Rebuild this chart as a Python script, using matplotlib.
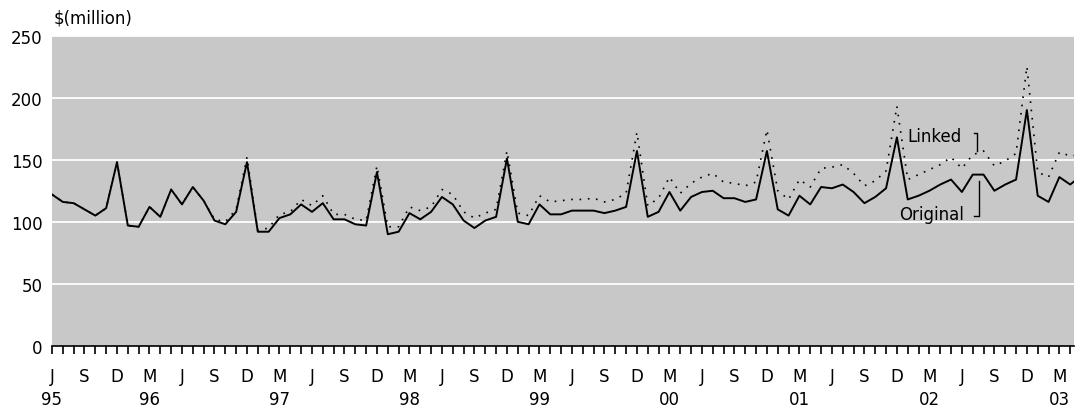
import matplotlib
matplotlib.use("Agg")
import matplotlib.pyplot as plt
import numpy as np

# Monthly series, June 1995 onwards ($ million)
original = [122, 116, 115, 110, 105, 111, 148, 97, 96, 112, 104, 126,
            114, 128, 117, 101, 98, 108, 148, 92, 92, 103, 106, 114,
            108, 115, 102, 102, 98, 97, 140, 90, 92, 107, 102, 108,
            120, 114, 101, 95, 101, 104, 151, 100, 98, 114, 106, 106,
            109, 109, 109, 107, 109, 112, 157, 104, 108, 124, 109, 120,
            124, 125, 119, 119, 116, 118, 157, 110, 105, 121, 114, 128,
            127, 130, 124, 115, 120, 127, 168, 118, 121, 125, 130, 134,
            124, 138, 138, 125, 130, 134, 190, 121, 116, 136, 130, 137]

linked = [122, 116, 115, 110, 105, 111, 148, 97, 96, 112, 104, 126,
          114, 128, 117, 102, 100, 110, 152, 93, 95, 106, 108, 118,
          113, 121, 106, 106, 102, 101, 145, 96, 96, 112, 109, 112,
          126, 122, 108, 103, 107, 110, 157, 107, 105, 121, 116, 117,
          118, 118, 119, 116, 118, 123, 172, 113, 119, 136, 123, 131,
          136, 139, 132, 131, 129, 132, 174, 125, 118, 134, 128, 143,
          144, 146, 139, 129, 133, 141, 193, 134, 138, 142, 146, 152,
          143, 154, 157, 145, 149, 155, 225, 140, 136, 156, 153, 154]

month_letters = ["J", "S", "D", "M"]          # Jun, Sep, Dec, Mar
year_labels = ["95", "96", "97", "98", "99", "00", "01", "02", "03"]
year_positions = [0, 9, 21, 33, 45, 57, 69, 81, 93]
y_ticks = [0, 50, 100, 150, 200, 250]

W, H = 1075, 414
fig = plt.figure(figsize=(W / 100, H / 100), dpi=100)
fig.patch.set_facecolor("white")
ax = fig.add_axes([52 / W, 1 - 347 / H, 1022 / W, (347 - 36.5) / H])
ax.set_facecolor("#c8c8c8")

x = np.arange(len(original))
ax.set_xlim(0, 94.35)
ax.set_ylim(0, 250)

for yv in y_ticks[1:]:
    ax.axhline(yv, color="white", lw=1.3, zorder=1)

ax.plot(x, linked, color="black", lw=1.2, linestyle=(0, (1, 4)), zorder=3)
ax.plot(x, original, color="black", lw=1.4, zorder=4)

for s in ["left", "top", "right"]:
    ax.spines[s].set_visible(False)
ax.spines["bottom"].set_color("black")
ax.spines["bottom"].set_linewidth(1.2)
ax.spines["bottom"].set_zorder(5)

ax.set_yticks(y_ticks)
ax.set_yticklabels([str(v) for v in y_ticks])
ax.tick_params(axis="y", length=0, pad=7, labelsize=12)

major = np.arange(0, 95, 3)
ax.set_xticks(np.arange(0, 95), minor=True)
ax.set_xticks(major)
ax.set_xticklabels([month_letters[k % 4] for k in range(len(major))])
ax.tick_params(axis="x", which="both", direction="out", length=6, width=1.2,
               pad=9, labelsize=12, color="black")

for lab, pos in zip(year_labels, year_positions):
    ax.annotate(lab, xy=(pos, 0), xycoords=("data", "axes fraction"),
                xytext=(0, -44), textcoords="offset pixels",
                ha="center", va="top", fontsize=12)

fig.text(54 / W, 1 - 18 / H, r"\$(million)", ha="left", va="center", fontsize=12)

# series labels with leader brackets
ax.text(79.0, 165, "Linked", ha="left", va="baseline", fontsize=12, zorder=6)
ax.plot([85.1, 85.4, 85.4], [171.3, 171.3, 157.2], color="black", lw=1.0, zorder=6)
ax.text(78.2, 102.3, "Original", ha="left", va="baseline", fontsize=12, zorder=6)
ax.plot([85.6, 85.6, 85.1], [133.1, 104.9, 104.9], color="black", lw=1.0, zorder=6)

fig.savefig("out.png", dpi=100)
